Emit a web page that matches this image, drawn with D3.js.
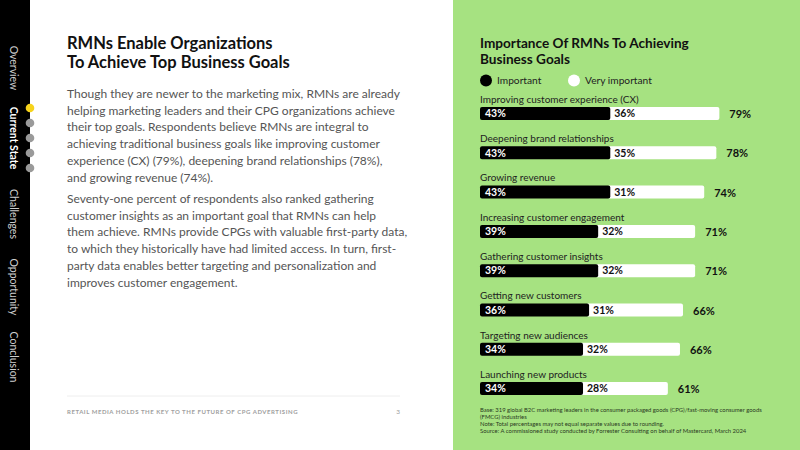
<!DOCTYPE html>
<html lang="en">
<head>
<meta charset="UTF-8"/>
<title>RMNs Enable Organizations</title>
<style>
  html, body { margin: 0; padding: 0; background: #fff; }
  svg { display: block; font-family: "Lato", "Open Sans", sans-serif; }
</style>
<script src="https://d3js.org/d3.v7.min.js"></script>
</head>
<body>
<div id="chart"></div>
<script>
// chart data
var categories = ["Improving customer experience (CX)", "Deepening brand relationships",
  "Growing revenue", "Increasing customer engagement", "Gathering customer insights",
  "Getting new customers", "Targeting new audiences", "Launching new products"];
var important = [43, 43, 43, 39, 39, 36, 34, 34];
var veryImportant = [36, 35, 31, 32, 32, 31, 32, 28];
var totals = [79, 78, 74, 71, 71, 66, 66, 61];
var seriesNames = ["Important", "Very important"];

// page text
var navItems = ["Overview", "Current State", "Challenges", "Opportunity", "Conclusion"];
var para1 = ["Though they are newer to the marketing mix, RMNs are already",
  "helping marketing leaders and their CPG organizations achieve",
  "their top goals. Respondents believe RMNs are integral to",
  "achieving traditional business goals like improving customer",
  "experience (CX) (79%), deepening brand relationships (78%),",
  "and growing revenue (74%)."];
var para2 = ["Seventy-one percent of respondents also ranked gathering",
  "customer insights as an important goal that RMNs can help",
  "them achieve. RMNs provide CPGs with valuable first-party data,",
  "to which they historically have had limited access. In turn, first-",
  "party data enables better targeting and personalization and",
  "improves customer engagement."];
var notes = ["Base: 319 global B2C marketing leaders in the consumer packaged goods (CPG)/fast-moving consumer goods",
  "(FMCG) industries",
  "Note: Total percentages may not equal separate values due to rounding.",
  "Source: A commissioned study conducted by Forrester Consulting on behalf of Mastercard, March 2024"];

var w = 800, h = 450;
var svg = d3.select("#chart").append("svg").attr("width", w).attr("height", h);

// sidebar
svg.append("rect").attr("x", 0).attr("y", 0).attr("width", 30).attr("height", h).attr("fill", "#000");
var navY = [68, 138, 214, 287, 357];
svg.selectAll(".nav").data(navItems).enter().append("text")
  .attr("transform", function(d, i) { return "translate(14," + navY[i] + ") rotate(90)"; })
  .attr("text-anchor", "middle").attr("dominant-baseline", "central")
  .attr("font-size", "10.5px")
  .attr("font-weight", function(d, i) { return i == 1 ? "bold" : "normal"; })
  .attr("fill", function(d, i) { return i == 1 ? "#fff" : "#cfcfcf"; })
  .text(function(d) { return d; });
svg.selectAll(".dot").data([0, 1, 2, 3, 4]).enter().append("circle")
  .attr("cx", 30).attr("cy", function(d) { return 108 + d * 15; }).attr("r", 4.3)
  .attr("fill", function(d) { return d == 0 ? "#f6d31c" : "#9a9a9a"; });

// left text column
svg.append("text").attr("x", 67).attr("y", 49).attr("font-size", "16.5px").attr("font-weight", "bold")
  .attr("fill", "#111").text("RMNs Enable Organizations");
svg.append("text").attr("x", 67).attr("y", 68).attr("font-size", "16.5px").attr("font-weight", "bold")
  .attr("fill", "#111").text("To Achieve Top Business Goals");

function para(lines, y0) {
  svg.append("g").selectAll("text").data(lines).enter().append("text")
    .attr("x", 67).attr("y", function(d, i) { return y0 + i * 16.7; })
    .attr("font-size", "12px").attr("fill", "#555")
    .text(function(d) { return d; });
}
para(para1, 98);
para(para2, 203);

svg.append("line").attr("x1", 67).attr("x2", 400).attr("y1", 396).attr("y2", 396)
  .attr("stroke", "#eee").attr("stroke-width", 1);
svg.append("text").attr("x", 67).attr("y", 413.5).attr("font-size", "6px").attr("font-weight", "bold")
  .attr("letter-spacing", "0.55px").attr("fill", "#a0a0a0")
  .text("RETAIL MEDIA HOLDS THE KEY TO THE FUTURE OF CPG ADVERTISING");
svg.append("text").attr("x", 400).attr("y", 413.5).attr("text-anchor", "end").attr("font-size", "6.5px")
  .attr("fill", "#a0a0a0").text("3");

// right green panel
svg.append("rect").attr("x", 453).attr("y", 0).attr("width", w - 453).attr("height", h).attr("fill", "#a6e281");

svg.append("text").attr("x", 480).attr("y", 48).attr("font-size", "13.6px").attr("font-weight", "bold")
  .attr("fill", "#111").text("Importance Of RMNs To Achieving");
svg.append("text").attr("x", 480).attr("y", 64).attr("font-size", "13.6px").attr("font-weight", "bold")
  .attr("fill", "#111").text("Business Goals");

// legend
var legendX = [486, 574];
var legend = svg.selectAll(".legend").data(seriesNames).enter().append("g")
  .attr("transform", function(d, i) { return "translate(" + legendX[i] + ",80.5)"; });
legend.append("circle").attr("r", 6).attr("fill", function(d, i) { return i == 0 ? "#000" : "#fff"; });
legend.append("text").attr("x", 11).attr("y", 3.6).attr("font-size", "10.2px").attr("fill", "#222")
  .text(function(d) { return d; });

// scales
var xScale = d3.scaleLinear().domain([0, 100]).range([480, 783]);
var yScale = d3.scaleBand().domain(categories).range([94, 94 + 39.3 * categories.length]);
var barH = 13;

var rows = svg.append("g").selectAll("g").data(categories).enter().append("g")
  .attr("transform", function(d) { return "translate(0," + yScale(d) + ")"; });

rows.append("text").attr("x", xScale(0)).attr("y", 8.7).attr("font-size", "10px").attr("fill", "#222")
  .text(function(d) { return d; });

// white (very important) segment drawn under the black one so corners stay rounded
rows.append("rect")
  .attr("x", function(d, i) { return xScale(important[i]) - 3; })
  .attr("y", 13).attr("height", barH).attr("rx", 2)
  .attr("width", function(d, i) { return xScale(important[i] + veryImportant[i]) - xScale(important[i]) + 3; })
  .attr("fill", "#fff");
rows.append("rect")
  .attr("x", xScale(0)).attr("y", 13).attr("height", barH).attr("rx", 2)
  .attr("width", function(d, i) { return xScale(important[i]) - xScale(0); })
  .attr("fill", "#000");

rows.append("text").attr("x", xScale(0) + 5).attr("y", 13 + barH / 2 + 3.8)
  .attr("font-size", "10.5px").attr("font-weight", "bold").attr("fill", "#fff")
  .text(function(d, i) { return important[i] + "%"; });
rows.append("text").attr("x", function(d, i) { return xScale(important[i]) + 4; }).attr("y", 13 + barH / 2 + 3.8)
  .attr("font-size", "10.5px").attr("font-weight", "bold").attr("fill", "#111")
  .text(function(d, i) { return veryImportant[i] + "%"; });
rows.append("text").attr("x", function(d, i) { return xScale(important[i] + veryImportant[i]) + 10; })
  .attr("y", 13 + barH / 2 + 4.5)
  .attr("font-size", "11px").attr("font-weight", "bold").attr("fill", "#111")
  .text(function(d, i) { return totals[i] + "%"; });

// notes
svg.append("g").selectAll("text").data(notes).enter().append("text")
  .attr("x", 480).attr("y", function(d, i) { return 412 + i * 6.9; })
  .attr("font-size", "5.9px").attr("fill", "#2a3a22")
  .text(function(d) { return d; });
</script>
</body>
</html>
